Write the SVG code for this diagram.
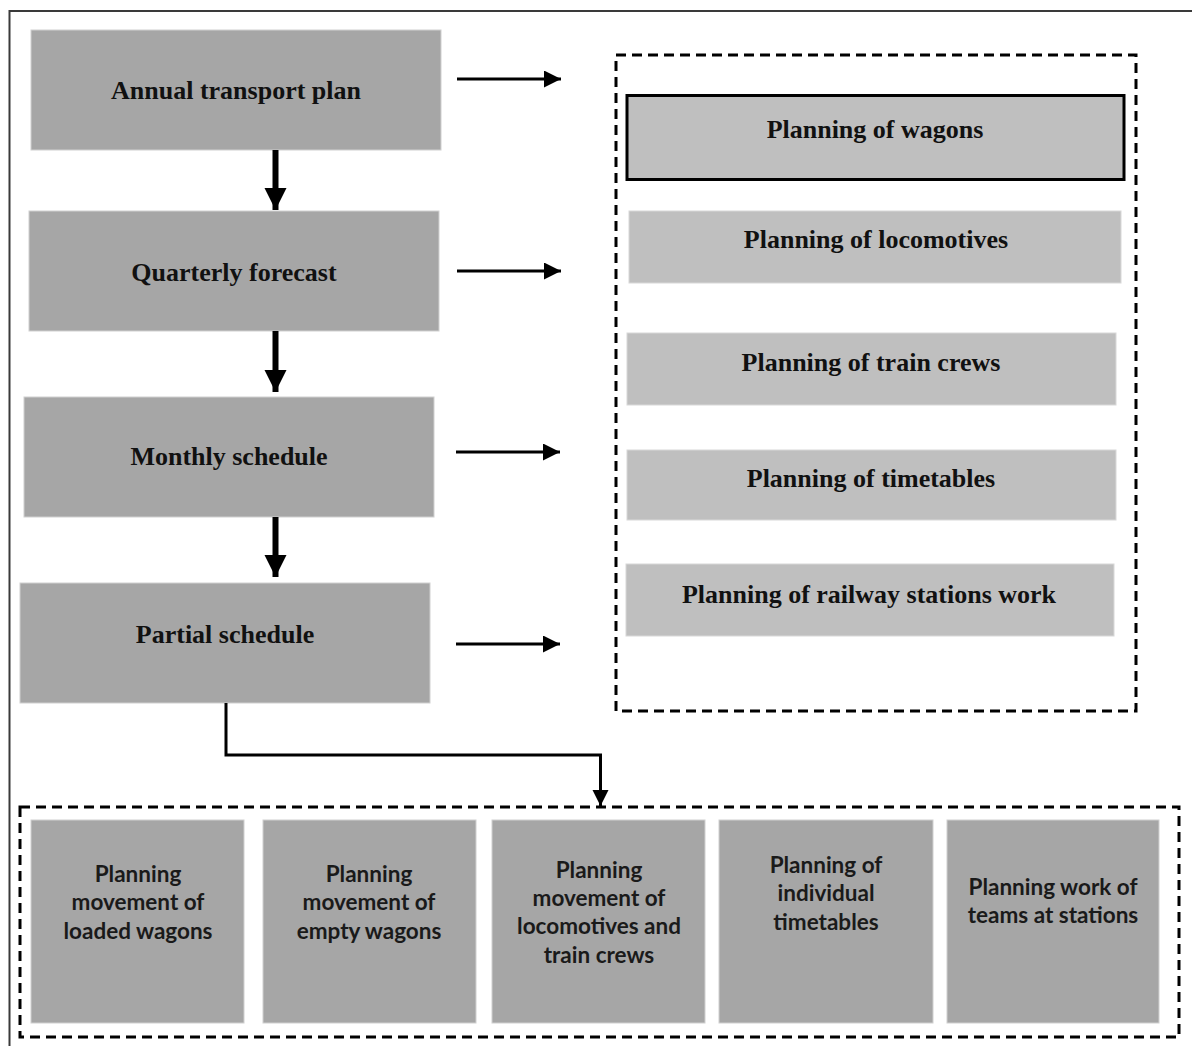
<svg xmlns="http://www.w3.org/2000/svg" width="1192" height="1046" viewBox="0 0 1192 1046">
  <style>
    .lvl { fill: #a6a6a6; stroke: #d0d0d0; stroke-width: 1; }
    .task { fill: #bfbfbf; stroke: #d8d8d8; stroke-width: 1; }
    .sub { fill: #a6a6a6; stroke: #d0d0d0; stroke-width: 1; }
    .dash { fill: none; stroke: #000; stroke-width: 3; stroke-dasharray: 10 6; }
    .serif { font-family: "Liberation Serif", "Times New Roman", serif; font-weight: bold; font-size: 26px; fill: #111; text-anchor: middle; }
    .sans { font-family: Lato, "Open Sans", "Liberation Sans", sans-serif; font-weight: bold; font-size: 22.5px; fill: #1a1a1a; text-anchor: middle; }
    .thin { stroke: #000; stroke-width: 3; fill: none; }
    .thick { stroke: #000; stroke-width: 6; fill: none; }
  </style>
  <defs>
    <marker id="headSmall" markerUnits="userSpaceOnUse" markerWidth="18" markerHeight="18" refX="17" refY="8.5" orient="auto">
      <path d="M0,0 L17,8.5 L0,17 Z" fill="#000"/>
    </marker>
    <marker id="headBig" markerUnits="userSpaceOnUse" markerWidth="23" markerHeight="23" refX="22" refY="11" orient="auto">
      <path d="M0,0 L22,11 L0,22 Z" fill="#000"/>
    </marker>
    <marker id="headMid" markerUnits="userSpaceOnUse" markerWidth="17" markerHeight="17" refX="16" refY="8" orient="auto">
      <path d="M0,0 L16,8 L0,16 Z" fill="#000"/>
    </marker>
  </defs>

  <rect width="1192" height="1046" fill="#fff"/>

  <!-- outer frame: top and left edges -->
  <path d="M9.5,1046 V11 H1192" fill="none" stroke="#3a3a3a" stroke-width="2"/>

  <!-- dashed containers -->
  <rect id="tasks-frame" class="dash" x="616" y="55" width="520" height="656"/>
  <rect id="subtasks-frame" class="dash" x="20" y="807" width="1159" height="230"/>

  <!-- planning levels -->
  <g id="annual-plan">
    <rect class="lvl" x="31" y="30" width="410" height="120"/>
    <text class="serif" x="236" y="99">Annual transport  plan</text>
  </g>
  <g id="quarterly-forecast">
    <rect class="lvl" x="29" y="211" width="410" height="120"/>
    <text class="serif" x="234" y="281">Quarterly  forecast</text>
  </g>
  <g id="monthly-schedule">
    <rect class="lvl" x="24" y="397" width="410" height="120"/>
    <text class="serif" x="229" y="465">Monthly schedule</text>
  </g>
  <g id="partial-schedule">
    <rect class="lvl" x="20" y="583" width="410" height="120"/>
    <text class="serif" x="225" y="643">Partial schedule</text>
  </g>

  <!-- planning tasks -->
  <g id="wagons">
    <rect x="627" y="95.5" width="497" height="84" fill="#bfbfbf" stroke="#000" stroke-width="3"/>
    <text class="serif" x="875" y="138">Planning of wagons</text>
  </g>
  <g id="locomotives">
    <rect class="task" x="629" y="211" width="492" height="72"/>
    <text class="serif" x="876" y="248">Planning of locomotives</text>
  </g>
  <g id="train-crews">
    <rect class="task" x="627" y="333" width="489" height="72"/>
    <text class="serif" x="871" y="371">Planning of train crews</text>
  </g>
  <g id="timetables">
    <rect class="task" x="627" y="450" width="489" height="70"/>
    <text class="serif" x="871" y="487">Planning of timetables</text>
  </g>
  <g id="stations-work">
    <rect class="task" x="626" y="564" width="488" height="72"/>
    <text class="serif" x="869" y="603">Planning of railway  stations  work</text>
  </g>

  <!-- detailed subtasks -->
  <g id="loaded-wagons">
    <rect class="sub" x="31" y="820" width="213" height="203"/>
    <text class="sans" x="138" y="882">Planning</text>
    <text class="sans" x="138" y="910">movement of</text>
    <text class="sans" x="138" y="939">loaded wagons</text>
  </g>
  <g id="empty-wagons">
    <rect class="sub" x="263" y="820" width="213" height="203"/>
    <text class="sans" x="369" y="882">Planning</text>
    <text class="sans" x="369" y="910">movement of</text>
    <text class="sans" x="369" y="939">empty wagons</text>
  </g>
  <g id="locos-crews">
    <rect class="sub" x="492" y="820" width="213" height="203"/>
    <text class="sans" x="599" y="878">Planning</text>
    <text class="sans" x="599" y="906">movement of</text>
    <text class="sans" x="599" y="934">locomotives and</text>
    <text class="sans" x="599" y="963">train crews</text>
  </g>
  <g id="individual-timetables">
    <rect class="sub" x="719" y="820" width="214" height="203"/>
    <text class="sans" x="826" y="873">Planning of</text>
    <text class="sans" x="826" y="901">individual</text>
    <text class="sans" x="826" y="930">timetables</text>
  </g>
  <g id="station-teams">
    <rect class="sub" x="947" y="820" width="212" height="203"/>
    <text class="sans" x="1053" y="895">Planning work of</text>
    <text class="sans" x="1053" y="923">teams at stations</text>
  </g>

  <!-- connectors -->
  <g id="connectors">
    <line class="thick" x1="275.5" y1="150" x2="275.5" y2="210" marker-end="url(#headBig)"/>
    <line class="thick" x1="275.5" y1="331" x2="275.5" y2="392" marker-end="url(#headBig)"/>
    <line class="thick" x1="275.5" y1="517" x2="275.5" y2="577" marker-end="url(#headBig)"/>

    <line class="thin" x1="457" y1="79" x2="561" y2="79" marker-end="url(#headSmall)"/>
    <line class="thin" x1="457" y1="271" x2="561" y2="271" marker-end="url(#headSmall)"/>
    <line class="thin" x1="456" y1="452" x2="560" y2="452" marker-end="url(#headSmall)"/>
    <line class="thin" x1="456" y1="644" x2="560" y2="644" marker-end="url(#headSmall)"/>

    <path class="thin" d="M226,703 V755 H600.5 V806" marker-end="url(#headMid)"/>
  </g>
</svg>
